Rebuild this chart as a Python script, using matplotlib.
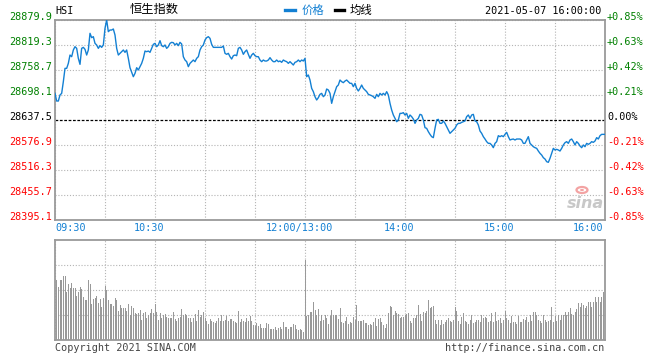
import matplotlib
matplotlib.use('Agg')
import numpy as np
import matplotlib.pyplot as plt
from matplotlib.lines import Line2D
from matplotlib.patches import Circle
from matplotlib.transforms import offset_copy

# previous close and the axis levels
prev_close = 28637.5
price_levels = [28879.9, 28819.3, 28758.7, 28698.1, 28637.5, 28576.9, 28516.3, 28455.7, 28395.1]
pct_labels = ['+0.85%', '+0.63%', '+0.42%', '+0.21%', '0.00%', '-0.21%', '-0.42%', '-0.63%', '-0.85%']
time_ticks = [0, 60, 150, 210, 270, 330]
time_labels = ['09:30', '10:30', '12:00/13:00', '14:00', '15:00', '16:00']

# HSI minute prices, 09:30 - 12:00
price_am = [
    28702.1, 28683.5, 28683.5, 28698.1, 28702.1, 28730.4, 28762.7, 28762.7, 28774.8, 28795.0,
    28791.0, 28807.2, 28815.2, 28811.2, 28787.0, 28772.4, 28811.2, 28813.6, 28808.8, 28795.0,
    28807.2, 28847.6, 28837.1, 28839.5, 28823.3, 28819.3, 28811.2, 28817.7, 28813.6, 28819.3,
    28859.7, 28879.9, 28851.6, 28855.6, 28855.6, 28858.1, 28843.5, 28811.2, 28795.0, 28799.1,
    28803.1, 28807.2, 28801.5, 28807.2, 28787.0, 28764.3, 28753.0, 28742.5, 28750.6, 28764.3,
    28758.7, 28766.8, 28774.8, 28787.0, 28804.7, 28803.1, 28804.7, 28801.5, 28811.2, 28820.9,
    28823.3, 28815.2, 28819.3, 28829.8, 28817.7, 28815.2, 28819.3, 28811.2, 28815.2, 28823.3,
    28825.7, 28824.9, 28819.3, 28823.3, 28817.7, 28825.7, 28821.7, 28791.0, 28782.9, 28778.9,
    28766.8, 28774.8, 28778.9, 28782.9, 28778.9, 28787.0, 28791.0, 28807.2, 28815.2, 28819.3,
    28831.4, 28837.1, 28839.5, 28835.4, 28820.9, 28813.6, 28813.6, 28813.6, 28813.6, 28813.6,
    28813.6, 28816.9, 28799.1, 28796.7, 28799.1, 28791.0, 28785.3, 28793.4, 28795.0, 28793.4,
    28811.2, 28813.6, 28807.2, 28796.7, 28803.1, 28807.2, 28796.7, 28787.0, 28795.0, 28799.1,
    28793.4, 28791.0, 28791.0, 28782.9, 28778.9, 28782.9, 28780.5, 28780.5, 28782.9, 28788.6,
    28782.9, 28778.9, 28778.9, 28782.9, 28778.9, 28780.5, 28777.3, 28782.9, 28780.5, 28778.9,
    28774.8, 28778.9, 28774.8, 28770.8, 28777.3, 28778.9, 28782.9, 28778.9, 28782.9, 28780.5,
    28787.0,
]
# 13:01 - 16:00
price_pm = [
    28742.5, 28746.6, 28734.4, 28714.2, 28706.2, 28694.0, 28686.0, 28691.6, 28699.7, 28702.1,
    28694.0, 28698.1, 28712.6, 28710.2, 28702.1, 28677.9, 28694.0, 28706.2, 28718.3, 28722.3,
    28734.4, 28730.4, 28728.0, 28732.0, 28734.4, 28730.4, 28726.4, 28726.4, 28718.3, 28726.4,
    28714.2, 28707.8, 28714.2, 28722.3, 28714.2, 28710.2, 28706.2, 28699.7, 28698.1, 28696.5,
    28694.0, 28690.0, 28699.7, 28694.0, 28702.1, 28698.1, 28702.1, 28698.1, 28706.2, 28698.1,
    28677.9, 28661.7, 28649.6, 28641.5, 28633.4, 28637.5, 28653.6, 28653.6, 28655.3, 28649.6,
    28653.6, 28641.5, 28649.6, 28645.6, 28639.9, 28629.4, 28637.5, 28641.5, 28651.2, 28649.6,
    28637.5, 28618.9, 28617.3, 28609.2, 28602.7, 28597.1, 28594.7, 28617.3, 28637.5, 28639.1,
    28629.4, 28629.4, 28635.1, 28629.4, 28621.3, 28613.2, 28605.2, 28609.2, 28613.2, 28617.3,
    28625.4, 28629.4, 28629.4, 28631.8, 28633.4, 28635.1, 28645.6, 28649.6, 28641.5, 28649.6,
    28651.2, 28635.1, 28633.4, 28625.4, 28610.8, 28605.2, 28597.1, 28591.4, 28585.0, 28580.9,
    28580.9, 28576.9, 28570.4, 28580.9, 28585.0, 28599.5, 28597.1, 28599.5, 28597.1, 28602.7,
    28607.6, 28597.1, 28589.0, 28590.6, 28591.4, 28589.0, 28591.4, 28591.4, 28591.4, 28589.0,
    28580.9, 28580.9, 28589.0, 28597.1, 28580.9, 28576.9, 28572.8, 28570.4, 28568.8, 28562.3,
    28556.7, 28552.6, 28546.2, 28542.9, 28536.5, 28534.9, 28544.6, 28556.7, 28568.8, 28564.8,
    28566.4, 28564.8, 28562.3, 28568.8, 28576.9, 28582.5, 28585.0, 28580.9, 28589.0, 28591.4,
    28585.0, 28576.9, 28585.0, 28580.9, 28574.5, 28570.4, 28576.9, 28572.8, 28580.9, 28578.5,
    28580.9, 28585.0, 28583.3, 28586.6, 28594.7, 28591.4, 28599.5, 28602.7, 28602.7, 28602.7,
]

# volume per minute (relative units, panel top = 100)
vol_am = [
    60, 53, 60, 60, 64, 64, 48, 56, 52, 57,
    52, 52, 44, 48, 53, 51, 43, 40, 40, 60,
    56, 36, 41, 42, 44, 37, 41, 33, 42, 54,
    50, 40, 36, 36, 34, 42, 40, 29, 35, 32,
    32, 32, 29, 36, 25, 34, 32, 27, 26, 27,
    30, 20, 27, 28, 22, 25, 27, 31, 27, 36,
    28, 20, 27, 22, 25, 26, 23, 22, 22, 22,
    28, 21, 19, 22, 23, 31, 25, 26, 25, 22,
    22, 18, 22, 26, 19, 30, 23, 25, 28, 22,
    19, 16, 21, 19, 18, 17, 19, 22, 19, 25,
    19, 20, 24, 19, 21, 21, 19, 18, 17, 29,
    18, 21, 19, 18, 22, 19, 24, 19, 15, 14,
    17, 14, 16, 12, 12, 12, 17, 16, 11, 11,
    11, 13, 10, 12, 13, 11, 18, 13, 13, 11,
    13, 13, 16, 15, 11, 10, 11, 10, 8, 80,
]
vol_pm = [
    24, 25, 28, 28, 38, 30, 25, 31, 19, 25,
    20, 25, 22, 16, 24, 30, 25, 25, 25, 21,
    32, 18, 17, 19, 23, 16, 18, 17, 23, 20,
    35, 19, 19, 19, 20, 17, 17, 15, 16, 15,
    18, 22, 14, 21, 22, 18, 15, 12, 16, 27,
    34, 33, 25, 29, 27, 26, 22, 23, 23, 25,
    26, 27, 19, 17, 22, 22, 25, 35, 26, 19,
    28, 27, 29, 40, 32, 33, 34, 20, 16, 20,
    15, 20, 16, 18, 20, 22, 19, 18, 20, 33,
    29, 19, 16, 23, 27, 19, 18, 16, 20, 25,
    17, 18, 20, 20, 18, 25, 22, 23, 22, 18,
    19, 27, 18, 28, 19, 20, 22, 17, 20, 29,
    22, 20, 17, 24, 18, 18, 16, 24, 18, 18,
    21, 20, 23, 18, 25, 19, 28, 28, 25, 20,
    19, 17, 25, 20, 18, 19, 20, 33, 18, 24,
    19, 25, 20, 25, 25, 28, 25, 28, 32, 26,
    25, 28, 31, 37, 33, 37, 35, 32, 34, 38,
    38, 33, 38, 43, 38, 43, 38, 43, 48, 48,
]

prices = np.array(price_am + price_pm)
minutes = np.arange(len(prices))
vols = np.array(vol_am + vol_pm)
vol_minutes = np.arange(1, len(vols) + 1)

MONO = 'DejaVu Sans Mono'
CJK = ['Noto Sans CJK SC', 'DejaVu Sans']
GREEN = '#008000'
RED = '#ff0000'
BLUE = '#1380d3'
FRAME = '#9a9a9a'
GRID = '#b4b4b4'

W, H = 660, 360


def px(x, y):
    return x / W, 1 - y / H


fig = plt.figure(figsize=(6.6, 3.6), dpi=100)
ax = fig.add_axes([55 / W, 140 / H, 550 / W, 200 / H])
axv = fig.add_axes([55 / W, 20 / H, 550 / W, 100 / H])

for a in (ax, axv):
    a.set_xlim(0, 330)
    a.set_xticks(np.arange(0, 331, 30))
    a.tick_params(length=0, labelbottom=False, labelleft=False)
    for s in a.spines.values():
        s.set_color(FRAME)
        s.set_linewidth(1.3)
    a.grid(True, color=GRID, linestyle=(0, (1, 1.6)), linewidth=0.8)
    a.set_axisbelow(True)

ax.set_ylim(price_levels[-1], price_levels[0])
ax.set_yticks([v for v in price_levels if v != prev_close])
axv.set_ylim(0, 100)
axv.set_yticks([25, 50, 75])

ax.axhline(prev_close, color='black', linestyle=(0, (2.2, 1.3)), linewidth=0.9, zorder=2)
ax.plot(minutes, prices, color=BLUE, linewidth=1.0, zorder=3)

axv.bar(vol_minutes, vols, width=0.6, color='#999999', zorder=3)

# left and right axis labels
ytr = ax.get_yaxis_transform()
for i, (lvl, pl) in enumerate(zip(price_levels, pct_labels)):
    c = GREEN if i < 4 else ('black' if i == 4 else RED)
    ax.text(-3 / 550, lvl, f'{lvl:.1f}', transform=ytr, ha='right', va='baseline',
            fontsize=7.3, family=MONO, color=c)
    ax.text(1 + 2 / 550, lvl, pl, transform=ytr, ha='left', va='baseline',
            fontsize=7.3, family=MONO, color=c)

# time labels
xtr = ax.get_xaxis_transform()
for i, (t, lab) in enumerate(zip(time_ticks, time_labels)):
    if i == 0:
        ha, dx = 'left', 0
    elif i == len(time_ticks) - 1:
        ha, dx = 'right', -2
    else:
        ha, dx = 'center', -6
    tr = offset_copy(xtr, fig=fig, x=dx, y=-3, units='dots')
    ax.text(t, 0, lab, transform=tr, ha=ha, va='top', fontsize=7.3, family=MONO, color=BLUE)

# header
fig.text(*px(55, 13.5), 'HSI', ha='left', va='baseline', fontsize=7.3, family=MONO)
fig.text(*px(130, 9.5), '恒生指数', ha='left', va='center', fontsize=8.8, family=CJK)
fig.add_artist(Line2D([285 / W, 295 / W], [1 - 10 / H, 1 - 10 / H], color=BLUE, linewidth=2.4,
                      transform=fig.transFigure))
fig.text(*px(302, 10), '价格', ha='left', va='center', fontsize=8.2, family=CJK, color=BLUE)
fig.add_artist(Line2D([335 / W, 344 / W], [1 - 10 / H, 1 - 10 / H], color='black', linewidth=2.4,
                      transform=fig.transFigure))
fig.text(*px(350, 10), '均线', ha='left', va='center', fontsize=8.2, family=CJK)
fig.text(*px(601, 13.5), '2021-05-07 16:00:00', ha='right', va='baseline', fontsize=7.3, family=MONO)

# footer
fig.text(*px(55, 351), 'Copyright 2021 SINA.COM', ha='left', va='baseline',
         fontsize=7.3, family=MONO, color='#444444')
fig.text(*px(604, 351), 'http://finance.sina.com.cn', ha='right', va='baseline',
         fontsize=7.3, family=MONO, color='#444444')

# sina watermark
fig.text(*px(567, 208), 'sina', ha='left', va='baseline', fontsize=11.5, style='italic',
         weight='bold', color='#c8c8c8', family='DejaVu Sans')
fig.add_artist(Circle(px(582, 190), 5.5 / W, transform=fig.transFigure, facecolor='none',
                      edgecolor='#f3a3a3', linewidth=1.6))
fig.add_artist(Circle(px(582, 190), 2.0 / W, transform=fig.transFigure, facecolor='#f3a3a3',
                      edgecolor='none'))

fig.savefig('out.png', dpi=100)
